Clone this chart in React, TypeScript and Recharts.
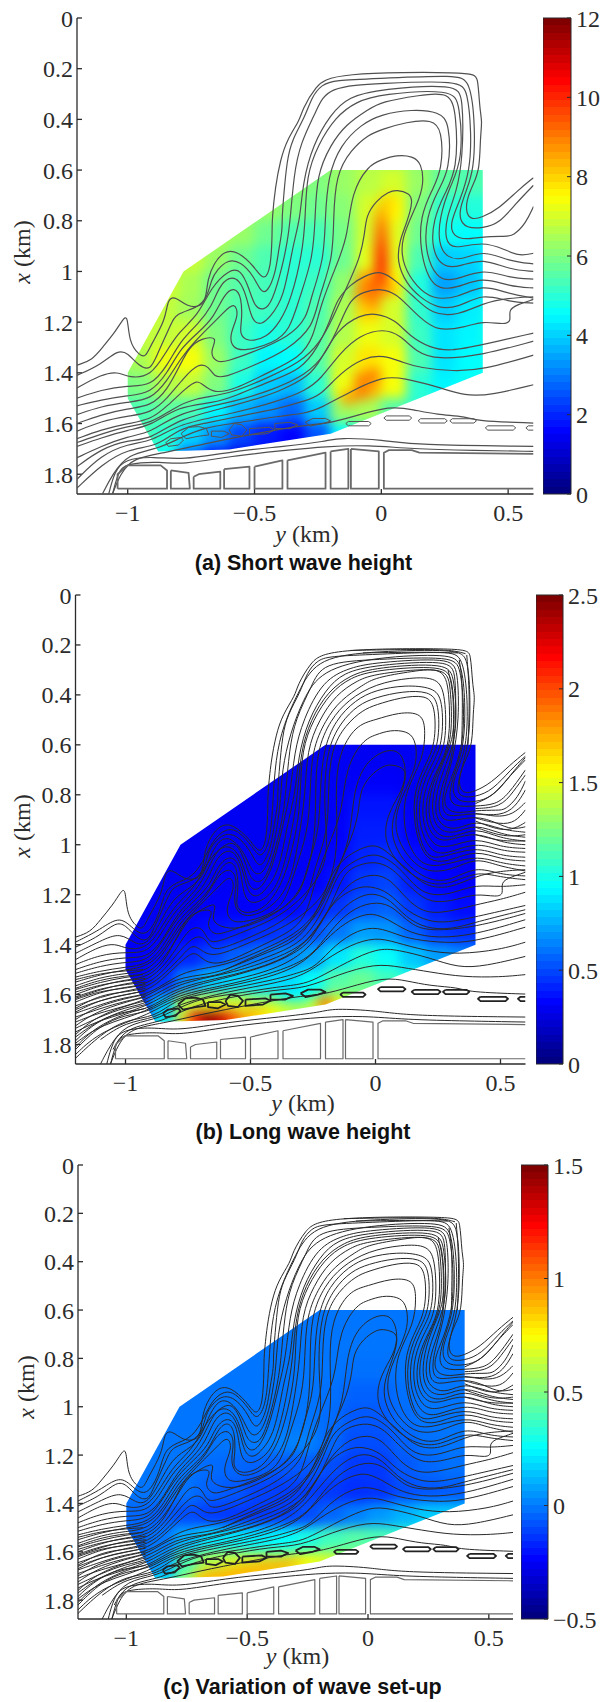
import React from "react";
import { ScatterChart, Scatter, XAxis, YAxis, Label, BarChart, Bar } from "recharts";

const SERIF = "'Liberation Serif', serif";
const INK = "#2b2b2b";

const xTicks = [-1, -0.5, 0, 0.5];
const yTicks = [0, 0.2, 0.4, 0.6, 0.8, 1, 1.2, 1.4, 1.6, 1.8];
const X_DOMAIN: [number, number] = [-1.2, 0.6];
const Y_DOMAIN: [number, number] = [0, 1.878];

// cross-shore positions of the field samples, rows are alongshore (km)
const fieldCols = [-1.05, -0.95, -0.85, -0.75, -0.65, -0.55, -0.45, -0.35, -0.25, -0.15, -0.05, 0.05, 0.15, 0.25, 0.35, 0.45];
const fieldRows = [0.55, 0.65, 0.75, 0.85, 0.95, 1.05, 1.15, 1.25, 1.35, 1.45, 1.55, 1.65, 1.75];

const shortWave = [
  [6.5, 6.5, 6.5, 6.5, 6.5, 6.5, 6.5, 6.3, 6.2, 6.3, 6.6, 6.6, 6.2, 5.8, 5.5, 5.5],
  [7, 7, 7, 7, 6.8, 6.6, 6.4, 6.2, 6, 6.3, 6.7, 7, 6.3, 5.6, 5.4, 5.4],
  [7, 7, 7, 7, 6.8, 6.5, 6.3, 6, 5.8, 6.1, 7, 7.6, 6, 5, 4.9, 4.9],
  [7.2, 7.2, 7.2, 7, 6.6, 6.3, 5.8, 5.4, 5.3, 5.9, 7, 7.2, 5.8, 4.7, 4.5, 4.6],
  [7.2, 7.2, 7, 6.9, 6.3, 5.8, 5.4, 5, 5, 5.8, 7.2, 7.2, 5.4, 3.9, 4, 4.5],
  [7.2, 7.2, 7, 6.5, 5.8, 5.5, 5.3, 5, 5.2, 6.2, 8.6, 7.6, 4.9, 3.4, 3.8, 4.5],
  [7, 7, 6.8, 6.4, 5.8, 5.4, 5.2, 5, 5.4, 6.5, 8, 7, 5.1, 3.9, 4.3, 4.7],
  [6.8, 6.8, 6.8, 7, 6, 5.2, 4.8, 5, 5.5, 6.6, 7.3, 7, 5.2, 4.2, 4.4, 4.8],
  [6.5, 6.5, 7.3, 7.4, 6.3, 5.2, 4.4, 4.5, 5.5, 7, 7.8, 7.4, 5.4, 4.2, 4.5, 4.7],
  [5.8, 6, 6.6, 6.8, 6, 4.8, 3.9, 3.7, 5, 7.3, 8.4, 7.4, 5, 4.4, 4.6, 4.7],
  [5.4, 5.4, 5.6, 5.4, 4.4, 3.6, 3.2, 2.7, 3.9, 6.3, 6.5, 5.5, 5, 4.8, 4.8, 4.8],
  [5.4, 5.4, 5, 4, 3.2, 2.3, 1.8, 1.5, 2.5, 4.5, 5, 5, 5, 5, 5, 5],
  [5.2, 5.2, 4.5, 2.5, 1.5, 1.2, 1.2, 1.5, 2.5, 4.5, 5, 5, 5, 5, 5, 5],
];

const longWave = [
  [0.28, 0.28, 0.28, 0.28, 0.28, 0.28, 0.28, 0.28, 0.28, 0.28, 0.28, 0.28, 0.28, 0.28, 0.28, 0.28],
  [0.28, 0.28, 0.28, 0.28, 0.28, 0.28, 0.28, 0.28, 0.28, 0.28, 0.28, 0.28, 0.28, 0.28, 0.28, 0.28],
  [0.28, 0.28, 0.28, 0.28, 0.28, 0.28, 0.28, 0.28, 0.28, 0.28, 0.3, 0.3, 0.28, 0.28, 0.28, 0.28],
  [0.28, 0.28, 0.28, 0.28, 0.28, 0.28, 0.28, 0.28, 0.28, 0.29, 0.36, 0.36, 0.29, 0.28, 0.28, 0.28],
  [0.28, 0.28, 0.28, 0.28, 0.28, 0.28, 0.28, 0.28, 0.28, 0.3, 0.38, 0.38, 0.3, 0.28, 0.28, 0.28],
  [0.28, 0.28, 0.28, 0.28, 0.28, 0.28, 0.28, 0.28, 0.29, 0.32, 0.4, 0.42, 0.34, 0.3, 0.28, 0.28],
  [0.28, 0.28, 0.28, 0.28, 0.28, 0.3, 0.3, 0.3, 0.3, 0.36, 0.45, 0.48, 0.38, 0.32, 0.3, 0.3],
  [0.28, 0.28, 0.28, 0.28, 0.3, 0.3, 0.3, 0.32, 0.36, 0.44, 0.52, 0.55, 0.45, 0.38, 0.34, 0.34],
  [0.28, 0.28, 0.3, 0.32, 0.35, 0.38, 0.42, 0.45, 0.5, 0.6, 0.7, 0.68, 0.55, 0.45, 0.42, 0.42],
  [0.28, 0.3, 0.33, 0.4, 0.48, 0.55, 0.6, 0.65, 0.72, 0.88, 1.02, 0.95, 0.8, 0.7, 0.65, 0.65],
  [0.3, 0.33, 0.42, 0.65, 0.8, 0.85, 0.85, 0.85, 0.95, 1.15, 1.2, 1.1, 1, 0.9, 0.9, 0.9],
  [0.35, 0.4, 0.8, 1.4, 1.5, 1.45, 1.3, 1.1, 1.25, 1.5, 1.3, 1.2, 1.1, 1, 1, 1],
  [0.4, 0.5, 1, 1.7, 2.2, 1.9, 1.6, 1.45, 1.5, 1.6, 1.4, 1.3, 1.1, 1, 1, 1],
];

const setUp = [
  [-0.02, -0.02, -0.02, -0.02, -0.02, -0.02, -0.02, -0.02, -0.02, -0.02, -0.02, -0.02, -0.02, -0.02, -0.02, -0.02],
  [-0.02, -0.02, -0.02, -0.02, -0.02, -0.02, -0.02, -0.02, -0.02, -0.02, -0.02, -0.02, -0.02, -0.02, -0.02, -0.02],
  [-0.02, -0.02, -0.02, -0.02, -0.02, -0.02, -0.02, -0.02, -0.02, -0.02, -0.02, -0.02, -0.02, -0.02, -0.02, -0.02],
  [-0.02, -0.02, -0.02, -0.02, -0.02, -0.02, -0.02, -0.02, -0.02, -0.02, -0.03, -0.03, -0.02, -0.02, -0.02, -0.02],
  [-0.02, -0.02, -0.02, -0.02, -0.02, -0.02, -0.02, -0.02, -0.02, -0.03, -0.06, -0.06, -0.03, -0.02, -0.02, -0.02],
  [-0.02, -0.02, -0.02, -0.02, -0.02, -0.02, -0.02, -0.02, -0.02, -0.04, -0.08, -0.08, -0.04, -0.02, -0.02, -0.02],
  [-0.02, -0.02, -0.02, -0.02, -0.02, -0.02, -0.01, 0, 0, -0.05, -0.1, -0.1, -0.06, -0.03, -0.02, -0.02],
  [-0.02, -0.02, -0.02, -0.02, -0.04, -0.05, -0.06, -0.08, -0.08, -0.1, -0.14, -0.14, -0.08, -0.05, -0.03, -0.03],
  [-0.02, -0.02, -0.02, -0.03, -0.06, -0.08, -0.12, -0.13, -0.13, -0.14, -0.16, -0.15, -0.1, -0.08, -0.07, -0.07],
  [-0.03, -0.05, -0.07, -0.1, -0.13, -0.14, -0.14, -0.13, -0.1, -0.05, 0, 0.05, 0.1, 0.15, 0.15, 0.15],
  [-0.05, -0.05, -0.02, 0.1, 0.2, 0.22, 0.22, 0.25, 0.3, 0.38, 0.42, 0.4, 0.35, 0.3, 0.3, 0.3],
  [-0.05, -0.02, 0.05, 0.4, 0.6, 0.65, 0.62, 0.6, 0.62, 0.65, 0.55, 0.5, 0.4, 0.35, 0.35, 0.35],
  [-0.02, 0.02, 0.25, 0.55, 0.85, 0.85, 0.85, 0.8, 0.8, 0.8, 0.6, 0.5, 0.4, 0.35, 0.35, 0.35],
];

// narrow features the 0.1 km samples miss, flat y, x, value triples
const shortWaveDetail = [
  0.02, 0.72, 8, 0, 0.77, 8.4, 0, 0.82, 9, 0, 0.87, 9.4, 0, 0.92, 9.8, 0, 0.97, 10, 0, 1.02, 9.8, -0.03, 1.07, 9.4, 0.02, 1.07, 8.8, -0.08, 1.09, 8.8,
  -0.03, 1.12, 8.8, -0.03, 1.41, 9, -0.08, 1.43, 9, -0.08, 1.48, 9, -0.13, 1.5, 8.6,
];
const longWaveDetail = [
  -0.72, 1.695, 2.2, -0.67, 1.695, 2.5, -0.62, 1.695, 2.35, -0.57, 1.69, 2, -0.5, 1.675, 1.75, -0.45, 1.67, 1.65, -0.4, 1.665, 1.55, -0.35, 1.66, 1.45,
  -0.3, 1.65, 1.4, -0.25, 1.64, 1.5, -0.2, 1.635, 1.9, -0.33, 1.6, 0.9, -0.28, 1.6, 0.95,
];
const setUpDetail = [
  -0.7, 1.705, 0.85, -0.65, 1.7, 0.9, -0.6, 1.695, 0.9, -0.55, 1.685, 0.9, -0.5, 1.675, 0.9, -0.45, 1.665, 0.9, -0.4, 1.66, 0.9, -0.35, 1.655, 0.9,
  -0.3, 1.645, 0.85, -0.25, 1.64, 0.75, -0.2, 1.63, 0.7,
];

// outline of the modelled area, as (y, x) in km
const fieldOutline = [-1, 1.5, -1, 1.4, -0.78, 1, -0.7, 0.945, -0.2, 0.6, 0.4, 0.6, 0.4, 1.4, -0.2, 1.64, -0.6, 1.702, -0.88, 1.71];

// depth contours, flat y, x pairs in km
const mainContours = [
  [-1.2, 1.37, -1.14, 1.35, -1.1, 1.3, -1.05, 1.24, -1.02, 1.19, -1, 1.17, -0.995, 1.28, -0.955, 1.33, -0.93, 1.34, -0.909, 1.29, -0.85, 1.19, -0.843, 1.105, -0.81, 1.1, -0.765, 1.14, -0.71, 1.14, -0.69, 1.1, -0.685, 1.03, -0.66, 0.967, -0.62, 0.92, -0.57, 0.917, -0.5, 0.98, -0.464, 1.04, -0.435, 0.99, -0.43, 0.836, -0.431, 0.796, -0.418, 0.665, -0.398, 0.56, -0.372, 0.48, -0.32, 0.4, -0.313, 0.363, -0.26, 0.27, -0.195, 0.215, 0.362, 0.213, 0.381, 0.23, 0.388, 0.363, 0.398, 0.408, 0.39, 0.468, 0.388, 0.6, 0.36, 0.66, 0.335, 0.72, 0.335, 0.774, 0.357, 0.795, 0.395, 0.788, 0.463, 0.753, 0.538, 0.68, 0.6, 0.63],
  [-1.2, 1.41, -1.105, 1.367, -1.04, 1.31, -1, 1.32, -0.955, 1.375, -0.91, 1.39, -0.885, 1.33, -0.83, 1.21, -0.81, 1.165, -0.725, 1.145, -0.685, 1.1, -0.67, 1.03, -0.647, 0.993, -0.607, 0.954, -0.555, 0.96, -0.502, 1.02, -0.476, 1.08, -0.45, 1.085, -0.417, 1.007, -0.405, 0.915, -0.39, 0.836, -0.392, 0.795, -0.385, 0.7, -0.372, 0.56, -0.352, 0.48, -0.3, 0.389, -0.274, 0.31, -0.234, 0.263, -0.189, 0.245, 0, 0.238, 0.296, 0.225, 0.35, 0.245, 0.37, 0.42, 0.365, 0.6, 0.335, 0.68, 0.31, 0.75, 0.309, 0.796, 0.335, 0.829, 0.4, 0.829, 0.466, 0.81, 0.532, 0.73, 0.6, 0.66],
  [-1.2, 1.46, -1.105, 1.407, -1.04, 1.394, -0.994, 1.42, -0.909, 1.415, -0.85, 1.32, -0.8, 1.24, -0.72, 1.17, -0.67, 1.06, -0.6, 0.993, -0.555, 0.99, -0.52, 1.07, -0.5, 1.14, -0.463, 1.155, -0.43, 1.12, -0.39, 0.98, -0.37, 0.88, -0.359, 0.795, -0.345, 0.62, -0.32, 0.495, -0.254, 0.363, -0.215, 0.27, 0, 0.258, 0.31, 0.245, 0.34, 0.29, 0.355, 0.45, 0.35, 0.6, 0.31, 0.72, 0.27, 0.81, 0.283, 0.862, 0.335, 0.875, 0.4, 0.862, 0.49, 0.862, 0.52, 0.86, 0.57, 0.81, 0.6, 0.744],
  [-1.2, 1.5, -1.105, 1.467, -1, 1.45, -0.909, 1.454, -0.843, 1.37, -0.79, 1.27, -0.72, 1.205, -0.67, 1.14, -0.64, 1.06, -0.6, 1.02, -0.56, 1.03, -0.53, 1.1, -0.51, 1.2, -0.47, 1.21, -0.44, 1.18, -0.385, 1.11, -0.35, 0.9, -0.32, 0.795, -0.31, 0.65, -0.27, 0.5, -0.2, 0.38, -0.13, 0.31, 0, 0.28, 0.296, 0.26, 0.322, 0.31, 0.322, 0.55, 0.296, 0.69, 0.257, 0.783, 0.25, 0.875, 0.283, 0.915, 0.4, 0.88, 0.49, 0.915, 0.545, 0.94, 0.6, 0.928],
  [-1.2, 1.53, -1.105, 1.506, -1, 1.49, -0.909, 1.48, -0.843, 1.4, -0.79, 1.3, -0.72, 1.24, -0.66, 1.18, -0.62, 1.09, -0.58, 1.06, -0.55, 1.1, -0.55, 1.2, -0.56, 1.243, -0.53, 1.28, -0.45, 1.26, -0.4, 1.2, -0.355, 1.11, -0.31, 0.92, -0.3, 0.795, -0.295, 0.62, -0.25, 0.5, -0.18, 0.39, -0.1, 0.33, 0, 0.3, 0.28, 0.28, 0.309, 0.337, 0.322, 0.56, 0.27, 0.665, 0.23, 0.783, 0.224, 0.888, 0.257, 0.947, 0.322, 0.955, 0.4, 0.915, 0.505, 0.96, 0.6, 0.97],
  [-1.2, 1.565, -1.105, 1.532, -1, 1.515, -0.909, 1.506, -0.843, 1.43, -0.79, 1.34, -0.73, 1.27, -0.68, 1.22, -0.62, 1.16, -0.58, 1.12, -0.56, 1.17, -0.6, 1.25, -0.587, 1.303, -0.54, 1.315, -0.424, 1.283, -0.36, 1.23, -0.325, 1.11, -0.27, 0.95, -0.261, 0.795, -0.255, 0.62, -0.2, 0.5, -0.14, 0.42, -0.05, 0.36, 0, 0.33, 0.15, 0.305, 0.27, 0.29, 0.296, 0.376, 0.3, 0.6, 0.25, 0.691, 0.204, 0.796, 0.198, 0.915, 0.244, 0.987, 0.31, 0.98, 0.4, 0.947, 0.505, 0.993, 0.6, 1],
  [-1.2, 1.6, -1.105, 1.565, -1, 1.54, -0.909, 1.532, -0.843, 1.467, -0.79, 1.361, -0.758, 1.3, -0.71, 1.263, -0.64, 1.256, -0.68, 1.32, -0.647, 1.361, -0.61, 1.355, -0.515, 1.322, -0.358, 1.256, -0.293, 1.18, -0.28, 1.11, -0.225, 0.95, -0.222, 0.795, -0.21, 0.62, -0.16, 0.5, -0.08, 0.42, 0, 0.38, 0.12, 0.36, 0.23, 0.37, 0.27, 0.415, 0.27, 0.6, 0.224, 0.678, 0.178, 0.783, 0.17, 0.915, 0.217, 1.03, 0.283, 1.04, 0.4, 0.987, 0.505, 1.026, 0.6, 1.03],
  [-1.2, 1.63, -1.105, 1.591, -1, 1.57, -0.909, 1.559, -0.843, 1.5, -0.78, 1.42, -0.72, 1.361, -0.68, 1.375, -0.66, 1.415, -0.62, 1.42, -0.5, 1.37, -0.37, 1.31, -0.267, 1.217, -0.25, 1.11, -0.19, 0.95, -0.189, 0.795, -0.18, 0.62, -0.12, 0.52, -0.05, 0.46, 0, 0.44, 0.1, 0.41, 0.2, 0.4, 0.24, 0.44, 0.24, 0.6, 0.2, 0.678, 0.153, 0.783, 0.153, 0.915, 0.185, 1.03, 0.23, 1.07, 0.296, 1.066, 0.4, 1.02, 0.505, 1.06, 0.6, 1.065],
  [-1.2, 1.66, -1.105, 1.624, -1, 1.6, -0.909, 1.585, -0.843, 1.53, -0.77, 1.46, -0.727, 1.427, -0.7, 1.45, -0.66, 1.48, -0.58, 1.467, -0.45, 1.4, -0.32, 1.34, -0.267, 1.26, -0.24, 1.13, -0.17, 0.96, -0.133, 0.86, -0.118, 0.688, -0.05, 0.58, 0, 0.56, 0.06, 0.54, 0.124, 0.545, 0.158, 0.573, 0.168, 0.652, 0.145, 0.73, 0.073, 0.875, 0.086, 0.98, 0.139, 1.06, 0.2, 1.11, 0.3, 1.105, 0.4, 1.05, 0.49, 1.085, 0.6, 1.105],
  [-1.2, 1.675, -1.1, 1.64, -1, 1.61, -0.909, 1.6, -0.82, 1.54, -0.74, 1.5, -0.6, 1.485, -0.45, 1.42, -0.32, 1.36, -0.24, 1.28, -0.19, 1.18, -0.14, 1.07, -0.085, 0.95, -0.065, 0.85, -0.06, 0.78, -0.02, 0.72, 0.03, 0.685, 0.06, 0.678, 0.11, 0.69, 0.126, 0.72, 0.1, 0.81, 0.073, 0.875, 0.06, 0.96, 0.1, 1.05, 0.15, 1.1, 0.22, 1.145, 0.3, 1.145, 0.4, 1.085, 0.5, 1.12, 0.6, 1.125],
  [-1.2, 1.69, -1.105, 1.657, -1, 1.625, -0.909, 1.61, -0.804, 1.532, -0.66, 1.519, -0.58, 1.493, -0.424, 1.427, -0.319, 1.388, -0.25, 1.3, -0.2, 1.19, -0.175, 1.11, -0.12, 1.05, -0.07, 1.02, 0, 0.993, 0.06, 1.04, 0.13, 1.1, 0.2, 1.17, 0.3, 1.175, 0.4, 1.125, 0.5, 1.105, 0.6, 1.1],
  [-1.2, 1.735, -1.105, 1.69, -1, 1.65, -0.909, 1.637, -0.8, 1.555, -0.58, 1.515, -0.424, 1.465, -0.3, 1.41, -0.22, 1.33, -0.16, 1.2, -0.123, 1.11, -0.07, 1.08, 0, 1.066, 0.06, 1.09, 0.1, 1.13, 0.15, 1.18, 0.22, 1.237, 0.33, 1.22, 0.4, 1.195, 0.486, 1.21, 0.513, 1.197, 0.5, 1.15, 0.54, 1.13, 0.6, 1.11],
  [-1.2, 1.77, -1.105, 1.7, -1, 1.665, -0.909, 1.663, -0.8, 1.58, -0.58, 1.53, -0.4, 1.475, -0.28, 1.41, -0.24, 1.35, -0.175, 1.23, -0.083, 1.17, -0.018, 1.165, 0.054, 1.19, 0.113, 1.256, 0.19, 1.3, 0.27, 1.316, 0.4, 1.289, 0.6, 1.243],
  [-1.2, 1.82, -1.105, 1.725, -1, 1.68, -0.9, 1.67, -0.8, 1.6, -0.58, 1.56, -0.4, 1.51, -0.3, 1.47, -0.24, 1.427, -0.162, 1.32, -0.083, 1.25, 0.008, 1.226, 0.074, 1.25, 0.14, 1.32, 0.218, 1.348, 0.4, 1.33, 0.6, 1.275],
  [-1.2, 1.855, -1.1, 1.76, -1, 1.7, -0.88, 1.69, -0.8, 1.62, -0.7, 1.6, -0.58, 1.575, -0.4, 1.54, -0.3, 1.51, -0.24, 1.49, -0.162, 1.4, -0.07, 1.34, 0.008, 1.329, 0.087, 1.36, 0.152, 1.38, 0.283, 1.394, 0.4, 1.388, 0.6, 1.33],
  [-1.1, 1.878, -1.06, 1.8, -1, 1.72, -0.88, 1.7, -0.8, 1.66, -0.7, 1.615, -0.58, 1.6, -0.4, 1.57, -0.3, 1.56, -0.24, 1.54, -0.11, 1.467, 0.008, 1.414, 0.087, 1.42, 0.218, 1.453, 0.33, 1.493, 0.44, 1.486, 0.6, 1.447],
  [-1.06, 1.878, -1.03, 1.8, -0.98, 1.735, -0.85, 1.715, -0.7, 1.68, -0.5, 1.64, -0.3, 1.605, -0.21, 1.6, -0.11, 1.572, 0.035, 1.53, 0.126, 1.545, 0.218, 1.565, 0.335, 1.572, 0.369, 1.59, 0.6, 1.598],
  [-1.075, 1.878, -1.052, 1.79, -1.014, 1.74, -0.894, 1.73, -0.79, 1.745, -0.59, 1.71, -0.38, 1.69, -0.215, 1.67, -0.17, 1.655, 0.01, 1.665, 0.13, 1.685, 0.6, 1.69],
  [-1.06, 1.878, -1.037, 1.79, -1.008, 1.757, -0.865, 1.75, -0.79, 1.763, -0.59, 1.728, -0.38, 1.706, -0.22, 1.69, -0.05, 1.685, 0.116, 1.7, 0.37, 1.706, 0.6, 1.71],
];

// the finer contour interval used in panels (b) and (c)
const fineContours = [
  [-1.2, 1.39, -1.1, 1.34, -1.02, 1.28, -0.96, 1.35, -0.91, 1.365, -0.86, 1.27, -0.84, 1.16, -0.74, 1.14, -0.69, 1.07, -0.65, 0.98, -0.6, 0.935, -0.55, 0.94, -0.49, 1.01, -0.46, 1.06, -0.42, 0.99, -0.41, 0.82, -0.4, 0.66, -0.37, 0.52, -0.3, 0.37, -0.23, 0.25, 0, 0.225, 0.33, 0.217, 0.37, 0.25, 0.38, 0.42, 0.375, 0.6, 0.33, 0.74, 0.325, 0.81, 0.4, 0.81, 0.47, 0.78, 0.54, 0.7, 0.6, 0.645],
  [-1.2, 1.435, -1.1, 1.385, -1.02, 1.35, -0.96, 1.4, -0.91, 1.4, -0.85, 1.29, -0.8, 1.2, -0.7, 1.155, -0.665, 1.05, -0.62, 0.97, -0.57, 0.975, -0.52, 1.04, -0.49, 1.12, -0.45, 1.12, -0.41, 1.03, -0.38, 0.85, -0.375, 0.7, -0.34, 0.55, -0.29, 0.42, -0.22, 0.3, 0, 0.248, 0.3, 0.235, 0.345, 0.27, 0.36, 0.43, 0.355, 0.6, 0.32, 0.7, 0.29, 0.8, 0.31, 0.85, 0.4, 0.845, 0.48, 0.84, 0.53, 0.8, 0.6, 0.7],
  [-1.2, 1.48, -1.1, 1.44, -1, 1.43, -0.91, 1.435, -0.85, 1.345, -0.8, 1.26, -0.72, 1.19, -0.67, 1.1, -0.625, 1, -0.56, 1.01, -0.525, 1.09, -0.505, 1.18, -0.46, 1.185, -0.41, 1.09, -0.37, 0.92, -0.34, 0.795, -0.325, 0.63, -0.29, 0.5, -0.21, 0.34, -0.1, 0.29, 0, 0.27, 0.3, 0.25, 0.33, 0.3, 0.335, 0.5, 0.31, 0.66, 0.27, 0.78, 0.265, 0.87, 0.3, 0.89, 0.4, 0.87, 0.48, 0.89, 0.55, 0.88, 0.6, 0.83],
  [-1.2, 1.515, -1.1, 1.485, -1, 1.47, -0.91, 1.467, -0.85, 1.385, -0.79, 1.285, -0.72, 1.22, -0.66, 1.16, -0.63, 1.08, -0.58, 1.04, -0.54, 1.08, -0.53, 1.2, -0.5, 1.24, -0.44, 1.22, -0.38, 1.15, -0.335, 0.95, -0.31, 0.795, -0.3, 0.63, -0.26, 0.5, -0.19, 0.385, -0.1, 0.32, 0, 0.29, 0.29, 0.27, 0.315, 0.33, 0.33, 0.55, 0.28, 0.68, 0.245, 0.78, 0.235, 0.88, 0.27, 0.93, 0.33, 0.94, 0.4, 0.9, 0.5, 0.94, 0.6, 0.95],
  [-1.2, 1.55, -1.1, 1.52, -1, 1.5, -0.91, 1.49, -0.84, 1.415, -0.79, 1.32, -0.72, 1.25, -0.67, 1.2, -0.63, 1.12, -0.58, 1.09, -0.55, 1.14, -0.57, 1.22, -0.55, 1.28, -0.49, 1.29, -0.4, 1.24, -0.34, 1.15, -0.31, 1, -0.28, 0.8, -0.275, 0.62, -0.225, 0.5, -0.16, 0.4, -0.07, 0.34, 0, 0.315, 0.28, 0.285, 0.3, 0.35, 0.31, 0.58, 0.26, 0.68, 0.215, 0.79, 0.21, 0.9, 0.25, 0.97, 0.32, 0.97, 0.4, 0.93, 0.5, 0.975, 0.6, 0.985],
  [-1.2, 1.58, -1.1, 1.55, -1, 1.53, -0.91, 1.52, -0.84, 1.45, -0.78, 1.35, -0.74, 1.285, -0.68, 1.25, -0.63, 1.23, -0.66, 1.3, -0.62, 1.33, -0.55, 1.34, -0.44, 1.3, -0.33, 1.23, -0.27, 1.12, -0.24, 0.95, -0.24, 0.8, -0.235, 0.62, -0.18, 0.5, -0.11, 0.42, 0, 0.355, 0.14, 0.33, 0.25, 0.33, 0.28, 0.4, 0.285, 0.6, 0.235, 0.69, 0.19, 0.79, 0.185, 0.915, 0.23, 1.01, 0.3, 1.01, 0.4, 0.97, 0.5, 1.01, 0.6, 1.015],
  [-1.2, 1.615, -1.1, 1.58, -1, 1.555, -0.91, 1.545, -0.84, 1.48, -0.78, 1.39, -0.74, 1.33, -0.69, 1.33, -0.67, 1.39, -0.63, 1.39, -0.52, 1.345, -0.37, 1.285, -0.24, 1.16, -0.19, 1.05, -0.2, 0.9, -0.205, 0.795, -0.195, 0.62, -0.14, 0.51, -0.07, 0.44, 0, 0.41, 0.11, 0.385, 0.215, 0.385, 0.255, 0.43, 0.255, 0.6, 0.21, 0.68, 0.165, 0.785, 0.16, 0.915, 0.2, 1.05, 0.26, 1.055, 0.4, 1.005, 0.5, 1.045, 0.6, 1.05],
  [-1.2, 1.645, -1.1, 1.61, -1, 1.585, -0.91, 1.57, -0.84, 1.515, -0.77, 1.44, -0.73, 1.395, -0.69, 1.43, -0.64, 1.45, -0.5, 1.39, -0.36, 1.33, -0.22, 1.23, -0.17, 1.12, -0.15, 0.98, -0.16, 0.795, -0.15, 0.64, -0.08, 0.52, 0, 0.5, 0.09, 0.47, 0.19, 0.47, 0.2, 0.55, 0.19, 0.66, 0.12, 0.78, 0.11, 0.9, 0.13, 1, 0.18, 1.08, 0.26, 1.09, 0.4, 1.04, 0.5, 1.075, 0.6, 1.085],
  [-0.6, 1.5, -0.45, 1.43, -0.32, 1.375, -0.22, 1.27, -0.16, 1.12, -0.1, 0.98, -0.09, 0.8, -0.05, 0.68, 0.03, 0.62, 0.1, 0.62, 0.125, 0.7, 0.11, 0.78, 0.05, 0.87, 0.03, 0.98, 0.09, 1.08, 0.2, 1.16, 0.3, 1.16, 0.4, 1.105, 0.5, 1.13, 0.6, 1.14],
  [-1.2, 1.71, -1.1, 1.67, -0.91, 1.625, -0.8, 1.545, -0.66, 1.53, -0.58, 1.505, -0.424, 1.447, -0.31, 1.4, -0.24, 1.32, -0.18, 1.2, -0.15, 1.11, -0.08, 1.06, 0, 1.03, 0.07, 1.07, 0.12, 1.12, 0.18, 1.19, 0.25, 1.205, 0.32, 1.19, 0.4, 1.16, 0.5, 1.17, 0.6, 1.16],
  [-1.2, 1.75, -1.1, 1.7, -0.91, 1.65, -0.8, 1.57, -0.58, 1.525, -0.42, 1.48, -0.3, 1.42, -0.21, 1.3, -0.15, 1.2, -0.08, 1.135, 0, 1.115, 0.06, 1.14, 0.11, 1.2, 0.17, 1.26, 0.25, 1.28, 0.4, 1.24, 0.5, 1.22, 0.6, 1.19],
  [-1.2, 1.795, -1.1, 1.72, -0.91, 1.67, -0.8, 1.59, -0.58, 1.545, -0.4, 1.5, -0.28, 1.43, -0.2, 1.33, -0.12, 1.24, -0.05, 1.2, 0, 1.195, 0.06, 1.22, 0.12, 1.29, 0.2, 1.335, 0.3, 1.34, 0.4, 1.31, 0.6, 1.26],
  [-1.2, 1.84, -1.1, 1.745, -0.9, 1.68, -0.8, 1.61, -0.58, 1.565, -0.4, 1.525, -0.28, 1.47, -0.2, 1.38, -0.12, 1.31, -0.05, 1.28, 0, 1.275, 0.07, 1.31, 0.14, 1.355, 0.25, 1.375, 0.4, 1.36, 0.6, 1.3],
  [-1.1, 1.78, -1, 1.71, -0.88, 1.695, -0.8, 1.64, -0.58, 1.585, -0.4, 1.555, -0.28, 1.52, -0.2, 1.46, -0.1, 1.4, 0, 1.37, 0.08, 1.39, 0.2, 1.425, 0.33, 1.44, 0.5, 1.42, 0.6, 1.39],
  [-1.05, 1.82, -1, 1.73, -0.85, 1.71, -0.75, 1.65, -0.58, 1.61, -0.4, 1.58, -0.28, 1.575, -0.15, 1.52, 0, 1.475, 0.1, 1.49, 0.22, 1.51, 0.35, 1.53, 0.5, 1.53, 0.6, 1.52],
  // tight bundles: offshore left, seaward right, top of the bar
  [-1.2, 1.54, -1.1, 1.515, -1, 1.505, -0.93, 1.5],
  [-1.2, 1.575, -1.1, 1.54, -1, 1.525, -0.93, 1.52],
  [-1.2, 1.59, -1.1, 1.56, -1, 1.545, -0.92, 1.535],
  [-1.2, 1.61, -1.1, 1.575, -1, 1.56, -0.92, 1.55],
  [-1.2, 1.62, -1.1, 1.585, -1, 1.575, -0.92, 1.56],
  [-1.2, 1.655, -1.1, 1.6, -1, 1.59, -0.92, 1.575],
  [-1.2, 1.67, -1.1, 1.62, -1, 1.6, -0.92, 1.585],
  [-1.2, 1.7, -1.12, 1.65, -1, 1.615, -0.92, 1.6],
  [-1.2, 1.725, -1.12, 1.67, -1, 1.63, -0.92, 1.61],
  [-1.2, 1.76, -1.12, 1.69, -1, 1.645, -0.92, 1.625],
  [-1.2, 1.785, -1.12, 1.71, -1, 1.66, -0.92, 1.64],
  [-1.2, 1.81, -1.12, 1.73, -1, 1.675, -0.92, 1.655],
  [0.4, 0.835, 0.48, 0.8, 0.54, 0.72, 0.6, 0.65],
  [0.4, 0.855, 0.5, 0.85, 0.55, 0.79, 0.6, 0.72],
  [0.4, 0.875, 0.5, 0.885, 0.56, 0.85, 0.6, 0.78],
  [0.4, 0.893, 0.5, 0.92, 0.56, 0.91, 0.6, 0.86],
  [0.4, 0.905, 0.5, 0.945, 0.56, 0.935, 0.6, 0.91],
  [0.4, 0.93, 0.5, 0.965, 0.56, 0.965, 0.6, 0.96],
  [0.4, 0.96, 0.5, 0.985, 0.56, 0.985, 0.6, 0.985],
  [0.29, 0.3, 0.315, 0.4, 0.31, 0.6],
  [0.335, 0.26, 0.35, 0.36, 0.345, 0.6],
  [0.365, 0.24, 0.378, 0.4, 0.37, 0.6],
  [-0.1, 0.222, 0.1, 0.218, 0.3, 0.218, 0.36, 0.235],
  [-0.05, 0.232, 0.2, 0.228, 0.33, 0.232],
];

// breakwaters and building blocks, closed loops
const breakwaters = [
  [-0.13, 1.592, -0.05, 1.592, -0.04, 1.6, -0.05, 1.609, -0.13, 1.609, -0.14, 1.6, -0.13, 1.592],
  [0.02, 1.57, 0.11, 1.57, 0.12, 1.578, 0.11, 1.587, 0.02, 1.587, 0.01, 1.578, 0.02, 1.57],
  [0.155, 1.581, 0.25, 1.581, 0.26, 1.589, 0.25, 1.598, 0.155, 1.598, 0.145, 1.589, 0.155, 1.581],
  [0.28, 1.581, 0.365, 1.581, 0.375, 1.589, 0.365, 1.598, 0.28, 1.598, 0.27, 1.589, 0.28, 1.581],
  [0.42, 1.609, 0.52, 1.609, 0.53, 1.617, 0.52, 1.626, 0.42, 1.626, 0.41, 1.617, 0.42, 1.609],
  [0.6, 1.609, 0.58, 1.609, 0.57, 1.617, 0.58, 1.626, 0.6, 1.626],
  [-0.85, 1.675, -0.83, 1.66, -0.79, 1.655, -0.78, 1.665, -0.8, 1.685, -0.84, 1.69, -0.85, 1.675],
  [-0.79, 1.64, -0.76, 1.615, -0.72, 1.612, -0.69, 1.62, -0.68, 1.645, -0.72, 1.65, -0.77, 1.66, -0.79, 1.64],
  [-0.67, 1.63, -0.62, 1.63, -0.6, 1.64, -0.63, 1.655, -0.67, 1.65, -0.67, 1.63],
  [-0.6, 1.625, -0.58, 1.6, -0.55, 1.605, -0.53, 1.625, -0.55, 1.65, -0.59, 1.645, -0.6, 1.625],
  [-0.52, 1.62, -0.44, 1.615, -0.42, 1.625, -0.45, 1.64, -0.52, 1.645, -0.52, 1.62],
  [-0.42, 1.6, -0.36, 1.595, -0.33, 1.605, -0.36, 1.62, -0.42, 1.62, -0.42, 1.6],
  [-0.3, 1.595, -0.27, 1.58, -0.22, 1.58, -0.2, 1.59, -0.23, 1.6, -0.28, 1.61, -0.3, 1.595],
];

const buildings = [
  [-1.04, 1.857, -1.04, 1.8, -1, 1.765, -0.87, 1.765, -0.845, 1.785, -0.845, 1.857, -1.04, 1.857],
  [-0.83, 1.785, -0.76, 1.795, -0.755, 1.857, -0.83, 1.857, -0.83, 1.785],
  [-0.74, 1.81, -0.74, 1.857, -0.635, 1.857, -0.635, 1.79, -0.72, 1.8, -0.74, 1.81],
  [-0.62, 1.78, -0.52, 1.77, -0.52, 1.857, -0.62, 1.857, -0.62, 1.78],
  [-0.5, 1.77, -0.39, 1.745, -0.39, 1.857, -0.5, 1.857, -0.5, 1.77],
  [-0.37, 1.745, -0.22, 1.715, -0.22, 1.857, -0.37, 1.857, -0.37, 1.745],
  [-0.2, 1.71, -0.13, 1.7, -0.13, 1.857, -0.2, 1.857, -0.2, 1.71],
  [-0.12, 1.7, -0.01, 1.71, -0.01, 1.857, -0.12, 1.857, -0.12, 1.7],
  [0.6, 1.857, 0.01, 1.857, 0.01, 1.715, 0.03, 1.705, 0.12, 1.705, 0.15, 1.715, 0.6, 1.72],
];

const shortTicks = [0, 2, 4, 6, 8, 10, 12];
const longTicks = [0, 0.5, 1, 1.5, 2, 2.5];
const setUpTicks = [-0.5, 0, 0.5, 1, 1.5];

const clamp = (v: number) => Math.max(0, Math.min(1, v));
function jet(t: number) {
  const r = clamp(1.5 - Math.abs(4 * t - 3));
  const g = clamp(1.5 - Math.abs(4 * t - 2));
  const b = clamp(1.5 - Math.abs(4 * t - 1));
  return `rgb(${Math.round(r * 255)},${Math.round(g * 255)},${Math.round(b * 255)})`;
}

const toPoints = (flat: number[]) => {
  const out: { y: number; x: number }[] = [];
  for (let i = 0; i < flat.length; i += 2) out.push({ y: flat[i], x: flat[i + 1] });
  return out;
};
const toCells = (grid: number[][], detail: number[]) => {
  const cells = grid.flatMap((row, r) => row.map((v, c) => ({ y: fieldCols[c], x: fieldRows[r], v, size: 0.1 })));
  for (let i = 0; i < detail.length; i += 3) {
    cells.push({ y: detail[i], x: detail[i + 1], v: detail[i + 2], size: 0.05 });
  }
  return cells;
};

const minusSign = (v: number) => String(v).replace("-", "\u2212");
const NoDot = () => null;

interface PanelProps {
  id: string;
  grid: number[][];
  detail: number[];
  min: number;
  max: number;
  ticks: number[];
  title: string;
  contours: number[][];
  lineColor: string;
  lineWidth: number;
  wallWidth: number;
  wallColor: string;
  left: number;
  right: number;
  top: number;
  bottom: number;
  barLeft: number;
  barRight: number;
  titleX: number;
  titleY: number;
  xLabelX: number;
  xLabelY: number;
  yLabelX: number;
  yLabelY: number;
}

function Panel(p: PanelProps) {
  const plotW = p.right - p.left;
  const plotH = p.bottom - p.top;
  const chartW = p.right + 2;
  const chartH = p.bottom + 80;
  const kmW = plotW / 1.8;
  const kmH = plotH / 1.878;
  const cells = toCells(p.grid, p.detail);
  const lines = (flat: number[], key: string, color: string, width: number, joint: "basis" | "linear") => (
    <Scatter
      key={key}
      data={toPoints(flat)}
      shape={NoDot}
      line={{ stroke: color, strokeWidth: width, fill: "none", strokeLinejoin: "round" }}
      lineJointType={joint}
      fill={color}
      isAnimationActive={false}
    />
  );
  const stops: React.ReactNode[] = [];
  for (let i = 0; i < 64; i++) {
    const c = jet((63 - i) / 63);
    stops.push(<stop key={`a${i}`} offset={i / 64} stopColor={c} />);
    stops.push(<stop key={`b${i}`} offset={(i + 1) / 64} stopColor={c} />);
  }
  const barW = p.barRight - p.barLeft;
  return (
    <>
      <style>{`.field-${p.id}{filter:url(#blur-${p.id});clip-path:url(#clip-${p.id});}`}</style>
      <div style={{ position: "absolute", left: 0, top: 0 }}>
        <ScatterChart width={chartW} height={chartH} margin={{ top: p.top, right: 2, bottom: 0, left: 0 }}>
          <defs>
            <filter id={`blur-${p.id}`} filterUnits="userSpaceOnUse" x={0} y={0} width={chartW} height={chartH} colorInterpolationFilters="sRGB">
              <feGaussianBlur stdDeviation={6} />
            </filter>
          </defs>
          <XAxis
            type="number"
            dataKey="y"
            domain={X_DOMAIN}
            ticks={xTicks}
            tickFormatter={minusSign}
            height={80}
            tickSize={-5}
            tickMargin={15}
            allowDataOverflow
            interval={0}
            stroke={INK}
            strokeWidth={1.3}
            tick={{ fontFamily: SERIF, fontSize: 24, fill: INK, stroke: "none" }}
          >
            <Label
              content={() => (
                <text x={p.xLabelX} y={p.xLabelY} textAnchor="middle" fontFamily={SERIF} fontSize={24} fill={INK} dominantBaseline="middle">
                  <tspan fontStyle="italic">y</tspan> (km)
                </text>
              )}
            />
          </XAxis>
          <YAxis
            type="number"
            dataKey="x"
            reversed
            domain={Y_DOMAIN}
            ticks={yTicks}
            tickFormatter={minusSign}
            width={p.left}
            tickSize={-5}
            tickMargin={9}
            allowDataOverflow
            interval={0}
            stroke={INK}
            strokeWidth={1.3}
            tick={{ fontFamily: SERIF, fontSize: 24, fill: INK, stroke: "none" }}
          >
            <Label
              content={() => (
                <text
                  transform={`translate(${p.yLabelX},${p.yLabelY}) rotate(-90)`}
                  textAnchor="middle"
                  fontFamily={SERIF}
                  fontSize={24}
                  fill={INK}
                  dominantBaseline="middle"
                >
                  <tspan fontStyle="italic">x</tspan> (km)
                </text>
              )}
            />
          </YAxis>
          <XAxis xAxisId="top" orientation="top" type="number" domain={X_DOMAIN} ticks={xTicks} height={0} tickSize={-5} tick={false} stroke={INK} allowDataOverflow interval={0} />
          <YAxis yAxisId="right" orientation="right" type="number" reversed domain={Y_DOMAIN} ticks={yTicks} width={0} tickSize={-5} tick={false} stroke={INK} allowDataOverflow interval={0} />
          <Scatter
            data={toPoints(fieldOutline)}
            shape={NoDot}
            isAnimationActive={false}
            line={(lp: any) => (
              <clipPath id={`clip-${p.id}`}>
                <polygon points={lp.points.map((q: any) => `${q.x},${q.y}`).join(" ")} />
              </clipPath>
            )}
          />
          <Scatter
            className={`field-${p.id}`}
            data={cells}
            isAnimationActive={false}
            shape={(s: any) => {
              const w = kmW * s.payload.size + 1;
              const h = kmH * s.payload.size + 1;
              return <rect x={s.cx - w / 2} y={s.cy - h / 2} width={w} height={h} fill={jet((s.payload.v - p.min) / (p.max - p.min))} />;
            }}
          />
          {p.contours.map((c, i) => lines(c, `c${i}`, p.lineColor, p.lineWidth, "basis"))}
          {breakwaters.map((c, i) => lines(c, `w${i}`, p.wallColor, p.wallWidth, "linear"))}
          {buildings.map((c, i) => lines(c, `b${i}`, "#6a6a6a", p.id === "a" ? 1.8 : 1.2, "linear"))}
        </ScatterChart>
      </div>
      <div style={{ position: "absolute", left: p.barLeft, top: 0 }}>
        <BarChart
          width={barW + 58}
          height={p.bottom + 20}
          data={[{ name: "scale", range: [p.min, p.max] }]}
          margin={{ top: p.top, right: 0, bottom: 20, left: 0 }}
          barCategoryGap={0}
        >
          <defs>
            <linearGradient id={`jet-${p.id}`} x1="0" y1="0" x2="0" y2="1">
              {stops}
            </linearGradient>
          </defs>
          <XAxis dataKey="name" hide />
          <Bar dataKey="range" fill={`url(#jet-${p.id})`} stroke={INK} strokeWidth={1} isAnimationActive={false} />
          <YAxis
            orientation="right"
            type="number"
            domain={[p.min, p.max]}
            ticks={p.ticks}
            tickFormatter={minusSign}
            width={58}
            tickSize={-4}
            tickMargin={9}
            axisLine={false}
            interval={0}
            stroke={INK}
            tick={{ fontFamily: SERIF, fontSize: 24, fill: INK, stroke: "none" }}
          />
          <YAxis yAxisId="inner" orientation="left" type="number" domain={[p.min, p.max]} ticks={p.ticks} width={0} tickSize={-4} tick={false} axisLine={false} interval={0} stroke={INK} />
        </BarChart>
      </div>
      <div
        style={{
          position: "absolute",
          left: p.titleX - 200,
          width: 400,
          top: p.titleY - 14,
          height: 28,
          lineHeight: "28px",
          textAlign: "center",
          fontFamily: "'Liberation Sans', sans-serif",
          fontWeight: 700,
          fontSize: 21.5,
          color: "#111",
        }}
      >
        {p.title}
      </div>
    </>
  );
}

export default function App() {
  const dense = [...mainContours, ...fineContours];
  return (
    <div style={{ position: "absolute", left: 0, top: 0, width: 602, height: 1702, background: "#fff", overflow: "hidden" }}>
      <Panel
        id="a" grid={shortWave} detail={shortWaveDetail} min={0} max={12} ticks={shortTicks} title="(a) Short wave height"
        contours={mainContours} lineColor="#505050" lineWidth={1.2} wallColor="#555" wallWidth={1}
        left={77} right={533.5} top={18} bottom={494} barLeft={543} barRight={571}
        titleX={303.5} titleY={563} xLabelX={307} xLabelY={536} yLabelX={24} yLabelY={252}
      />
      <Panel
        id="b" grid={longWave} detail={longWaveDetail} min={0} max={2.5} ticks={longTicks} title="(b) Long wave height"
        contours={dense} lineColor="#2a2a2a" lineWidth={1} wallColor="#222" wallWidth={1.8}
        left={75.5} right={525.5} top={595} bottom={1064} barLeft={536} barRight={563}
        titleX={303} titleY={1132} xLabelX={303} xLabelY={1105} yLabelX={24} yLabelY={826}
      />
      <Panel
        id="c" grid={setUp} detail={setUpDetail} min={-0.5} max={1.5} ticks={setUpTicks} title="(c) Variation of wave set-up"
        contours={dense} lineColor="#2a2a2a" lineWidth={1} wallColor="#222" wallWidth={1.8}
        left={78} right={513} top={1165} bottom={1619} barLeft={521} barRight={548}
        titleX={302.5} titleY={1687} xLabelX={297.5} xLabelY={1658} yLabelX={28} yLabelY={1387}
      />
    </div>
  );
}
